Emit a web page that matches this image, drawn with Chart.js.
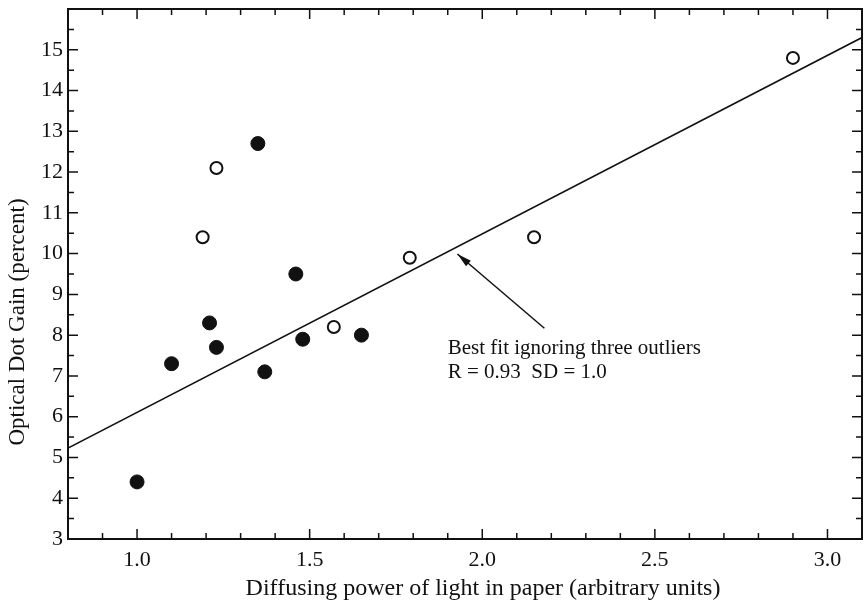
<!DOCTYPE html>
<html>
<head>
<meta charset="utf-8">
<script src="https://cdn.jsdelivr.net/npm/chart.js@4/dist/chart.umd.min.js"></script>
<style>
  body { margin: 0; background: #fff; overflow: hidden; }
  #wrap { width: 870px; height: 605px; }
</style>
</head>
<body>
<div id="wrap"><canvas id="myChart"></canvas></div>
<script>
// filled circles
var filledX = [1.0, 1.1, 1.21, 1.23, 1.37, 1.35, 1.46, 1.48, 1.65];
var filledY = [4.4, 7.3, 8.3, 7.7, 7.1, 12.7, 9.5, 7.9, 8.0];
// open circles
var openX = [1.19, 1.23, 1.57, 1.79, 2.15, 2.90];
var openY = [10.4, 12.1, 8.2, 9.9, 10.4, 14.8];
// best fit line ends
var fitX = [0.8, 3.1];
var fitY = [5.23, 15.3];
// tick labels
var xTicks = [1.0, 1.5, 2.0, 2.5, 3.0];
var yTicks = [3, 4, 5, 6, 7, 8, 9, 10, 11, 12, 13, 14, 15];

var xTitle = "Diffusing power of light in paper (arbitrary units)";
var yTitle = "Optical Dot Gain (percent)";
var noteLines = ["Best fit ignoring three outliers", "R = 0.93  SD = 1.0"];

function pts(xs, ys) {
  return xs.map(function (v, i) { return { x: v, y: ys[i] }; });
}

var FONT = "'Liberation Serif', 'Times New Roman', serif";
var INK = "#111";

// box frame with inward ticks on all four sides, plus axis titles
var frame = {
  id: "frame",
  afterDatasetsDraw: function (chart) {
    var ctx = chart.ctx, a = chart.chartArea;
    var x = chart.scales.x, y = chart.scales.y;
    ctx.save();
    ctx.strokeStyle = INK;
    ctx.lineWidth = 1.5;
    ctx.beginPath();
    for (var i = 9; i <= 30; i++) {
      var px = x.getPixelForValue(i / 10);
      var len = i % 5 === 0 ? 10 : 6;
      ctx.moveTo(px, a.bottom); ctx.lineTo(px, a.bottom - len);
      ctx.moveTo(px, a.top); ctx.lineTo(px, a.top + len);
    }
    for (var j = 7; j <= 31; j++) {
      var py = y.getPixelForValue(j / 2);
      var l2 = j % 2 === 0 ? 10 : 6;
      ctx.moveTo(a.left, py); ctx.lineTo(a.left + l2, py);
      ctx.moveTo(a.right, py); ctx.lineTo(a.right - l2, py);
    }
    ctx.stroke();
    ctx.lineWidth = 2;
    ctx.strokeRect(a.left, a.top, a.right - a.left, a.bottom - a.top);

    // axis titles
    ctx.fillStyle = INK;
    ctx.font = "24px " + FONT;
    ctx.textAlign = "center";
    ctx.textBaseline = "middle";
    ctx.fillText(xTitle, 483, 589);
    ctx.font = "23px " + FONT;
    ctx.translate(18, 322);
    ctx.rotate(-Math.PI / 2);
    ctx.fillText(yTitle, 0, 0);
    ctx.restore();
  }
};

// arrow + note text, placed in data units
var note = {
  id: "note",
  afterDatasetsDraw: function (chart) {
    var ctx = chart.ctx;
    var x = chart.scales.x, y = chart.scales.y;
    var x0 = x.getPixelForValue(2.18), y0 = y.getPixelForValue(8.17);
    var x1 = x.getPixelForValue(1.928), y1 = y.getPixelForValue(9.99);
    ctx.save();
    ctx.strokeStyle = INK;
    ctx.fillStyle = INK;
    ctx.lineWidth = 1.5;
    ctx.beginPath();
    ctx.moveTo(x0, y0);
    ctx.lineTo(x1, y1);
    ctx.stroke();
    var ang = Math.atan2(y1 - y0, x1 - x0);
    ctx.beginPath();
    ctx.moveTo(x1, y1);
    ctx.lineTo(x1 - 15 * Math.cos(ang - 0.25), y1 - 15 * Math.sin(ang - 0.25));
    ctx.lineTo(x1 - 15 * Math.cos(ang + 0.25), y1 - 15 * Math.sin(ang + 0.25));
    ctx.closePath();
    ctx.fill();
    ctx.font = "21px " + FONT;
    ctx.textBaseline = "middle";
    var tx = x.getPixelForValue(1.9);
    ctx.fillText(noteLines[0], tx, y.getPixelForValue(7.68));
    ctx.fillText(noteLines[1], tx, y.getPixelForValue(7.09));
    ctx.restore();
  }
};

var ctx = document.getElementById("myChart");
var chart = new Chart(ctx, {
  type: "scatter",
  data: {
    datasets: [
      {
        label: "fit",
        type: "line",
        data: pts(fitX, fitY),
        borderColor: INK,
        borderWidth: 1.5,
        pointRadius: 0,
        fill: false
      },
      {
        label: "filled",
        data: pts(filledX, filledY),
        backgroundColor: INK,
        borderColor: INK,
        pointRadius: 7,
        borderWidth: 1
      },
      {
        label: "open",
        data: pts(openX, openY),
        backgroundColor: "#fff",
        borderColor: INK,
        pointRadius: 6,
        borderWidth: 2
      }
    ]
  },
  options: {
    responsive: true,
    maintainAspectRatio: false,
    animation: false,
    layout: { padding: { left: 0, top: 9, right: 0, bottom: 0 } },
    plugins: {
      legend: { display: false },
      tooltip: { enabled: false }
    },
    scales: {
      x: {
        type: "linear",
        min: 0.8,
        max: 3.1,
        grid: { display: false, drawTicks: false },
        border: { display: false },
        afterBuildTicks: function (s) {
          s.ticks = xTicks.map(function (v) { return { value: v }; });
        },
        afterFit: function (s) {
          s.height = 66;
          s.paddingLeft = 0;
          s.paddingRight = 0;
        },
        ticks: {
          color: INK,
          padding: 8,
          font: { family: FONT, size: 22 },
          callback: function (v) { return Number(v).toFixed(1); }
        }
      },
      y: {
        type: "linear",
        min: 3,
        max: 16,
        grid: { display: false, drawTicks: false },
        border: { display: false },
        afterBuildTicks: function (s) {
          s.ticks = yTicks.map(function (v) { return { value: v }; });
        },
        afterFit: function (s) {
          s.width = 68;
          s.paddingTop = 0;
          s.paddingBottom = 0;
        },
        ticks: {
          color: INK,
          padding: 5,
          font: { family: FONT, size: 22 }
        }
      }
    }
  },
  plugins: [frame, note]
});
</script>
</body>
</html>
